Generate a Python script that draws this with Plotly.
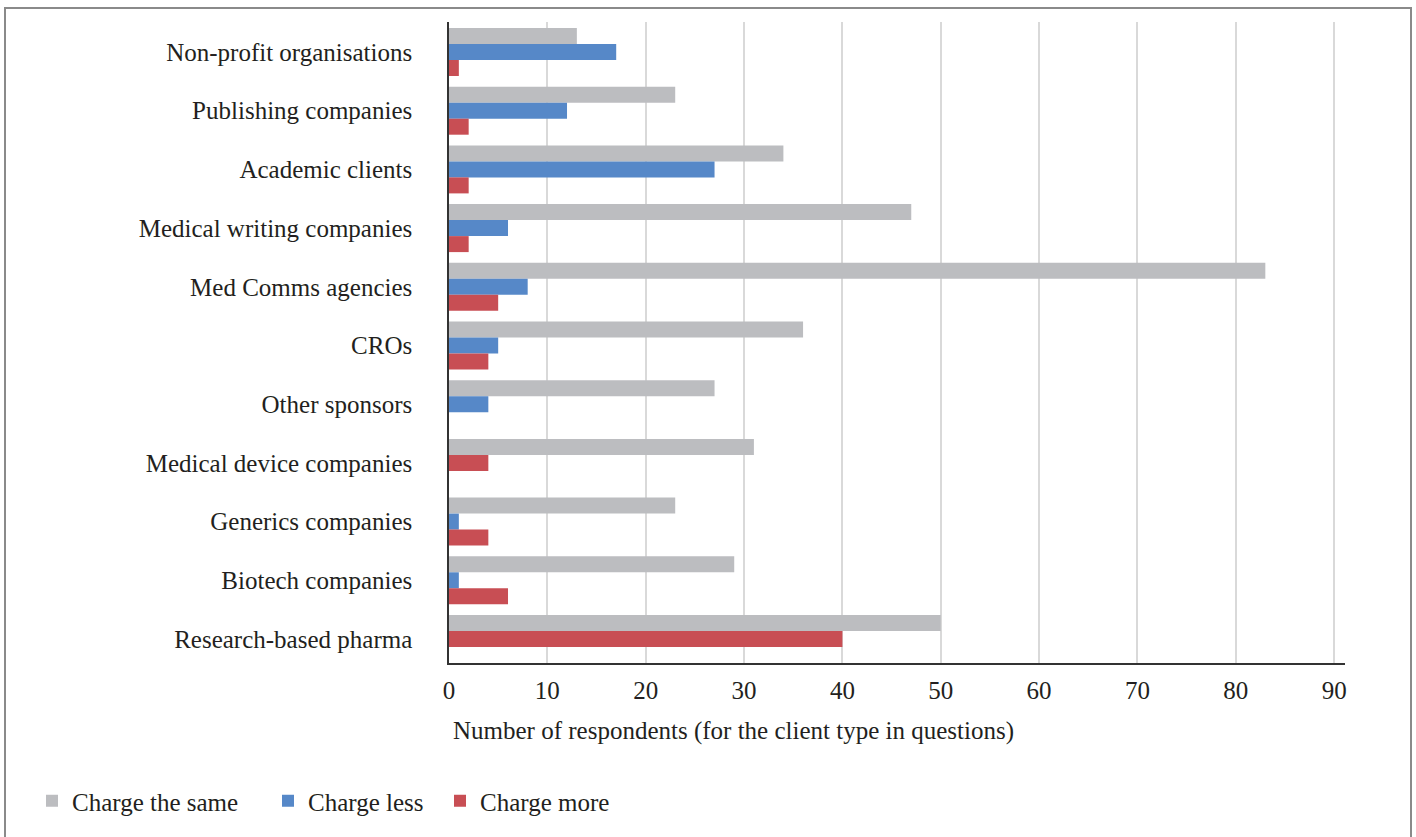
import plotly.graph_objects as go

# ---- data (top to bottom as shown) ----
categories = [
    "Non-profit organisations",
    "Publishing companies",
    "Academic clients",
    "Medical writing companies",
    "Med Comms agencies",
    "CROs",
    "Other sponsors",
    "Medical device companies",
    "Generics companies",
    "Biotech companies",
    "Research-based pharma",
]
charge_same = [13, 23, 34, 47, 83, 36, 27, 31, 23, 29, 50]
charge_less = [17, 12, 27, 6, 8, 5, 4, None, 1, 1, None]
charge_more = [1, 2, 2, 2, 5, 4, None, 4, 4, 6, 40]
x_ticks = [0, 10, 20, 30, 40, 50, 60, 70, 80, 90]

series_names = ["Charge the same", "Charge less", "Charge more"]
colors = ["#BCBDC0", "#5688C8", "#C84E54"]

FONT = "Liberation Serif"
TXT = "#231F20"

# plot-area geometry (pixels) used for paper conversions
L, R, T, B = 449, 1345, 22, 663
PW, PH = R - L, B - T
def px_x(p):
    return (p - L) / PW
def px_y(p):
    return (B - p) / PH

W = 16 / 58.7  # bar thickness in category units

# slot offsets: gray top, blue middle, red below (red moves up when blue is absent)
off_same = [-1.5 * W] * len(categories)
off_less = [-0.5 * W] * len(categories)
off_more = [(0.5 * W if l is not None else -0.5 * W) for l in charge_less]

legend_ids = ["legend", "legend2", "legend3"]
legend_left_px = [32, 268, 440]

fig = go.Figure()
for name, vals, offs, col, lid in zip(series_names,
                                      [charge_same, charge_less, charge_more],
                                      [off_same, off_less, off_more], colors, legend_ids):
    fig.add_trace(go.Bar(
        y=categories, x=vals, orientation="h", name=name,
        marker=dict(color=col, line=dict(width=0)),
        offset=offs, width=W, legend=lid,
    ))

legend_common = dict(
    orientation="h", xanchor="left", y=px_y(801), yanchor="middle",
    font=dict(family=FONT, size=25, color=TXT), bgcolor="rgba(0,0,0,0)",
)

fig.update_layout(
    width=1416, height=837,
    margin=dict(l=L, r=1416 - R, t=T, b=837 - B, autoexpand=False),
    paper_bgcolor="white", plot_bgcolor="white",
    barmode="overlay",
    font=dict(family=FONT, size=25, color=TXT),
    showlegend=True,
    legend=dict(x=px_x(legend_left_px[0]), **legend_common),
    legend2=dict(x=px_x(legend_left_px[1]), **legend_common),
    legend3=dict(x=px_x(legend_left_px[2]), **legend_common),
    xaxis=dict(
        range=[0, 91.1], tickvals=x_ticks, showgrid=True, gridcolor="#D9D9D9", gridwidth=2,
        showline=True, linecolor="#333333", linewidth=1.5, zeroline=False,
        ticks="", ticklabelstandoff=4, tickfont=dict(family=FONT, size=25, color=TXT),
    ),
    yaxis=dict(
        type="category", categoryorder="array", categoryarray=categories,
        range=[10 + 24 / 58.7, -30 / 58.7], showgrid=False,
        showline=True, linecolor="#333333", linewidth=1.5, zeroline=False,
        ticks="", ticklabelstandoff=30, tickfont=dict(family=FONT, size=25, color=TXT),
    ),
    annotations=[dict(
        text="Number of respondents (for the client type in questions)",
        xref="paper", yref="paper", x=px_x(451), y=px_y(731),
        xanchor="left", yanchor="middle", showarrow=False,
        font=dict(family=FONT, size=25, color=TXT),
    )],
    shapes=[dict(
        type="rect", xref="paper", yref="paper",
        x0=px_x(5), x1=px_x(1411), y0=px_y(845), y1=px_y(8),
        line=dict(color="#8A8A8A", width=2), fillcolor="rgba(0,0,0,0)", layer="below",
    )],
)

fig.write_html("out.html")
